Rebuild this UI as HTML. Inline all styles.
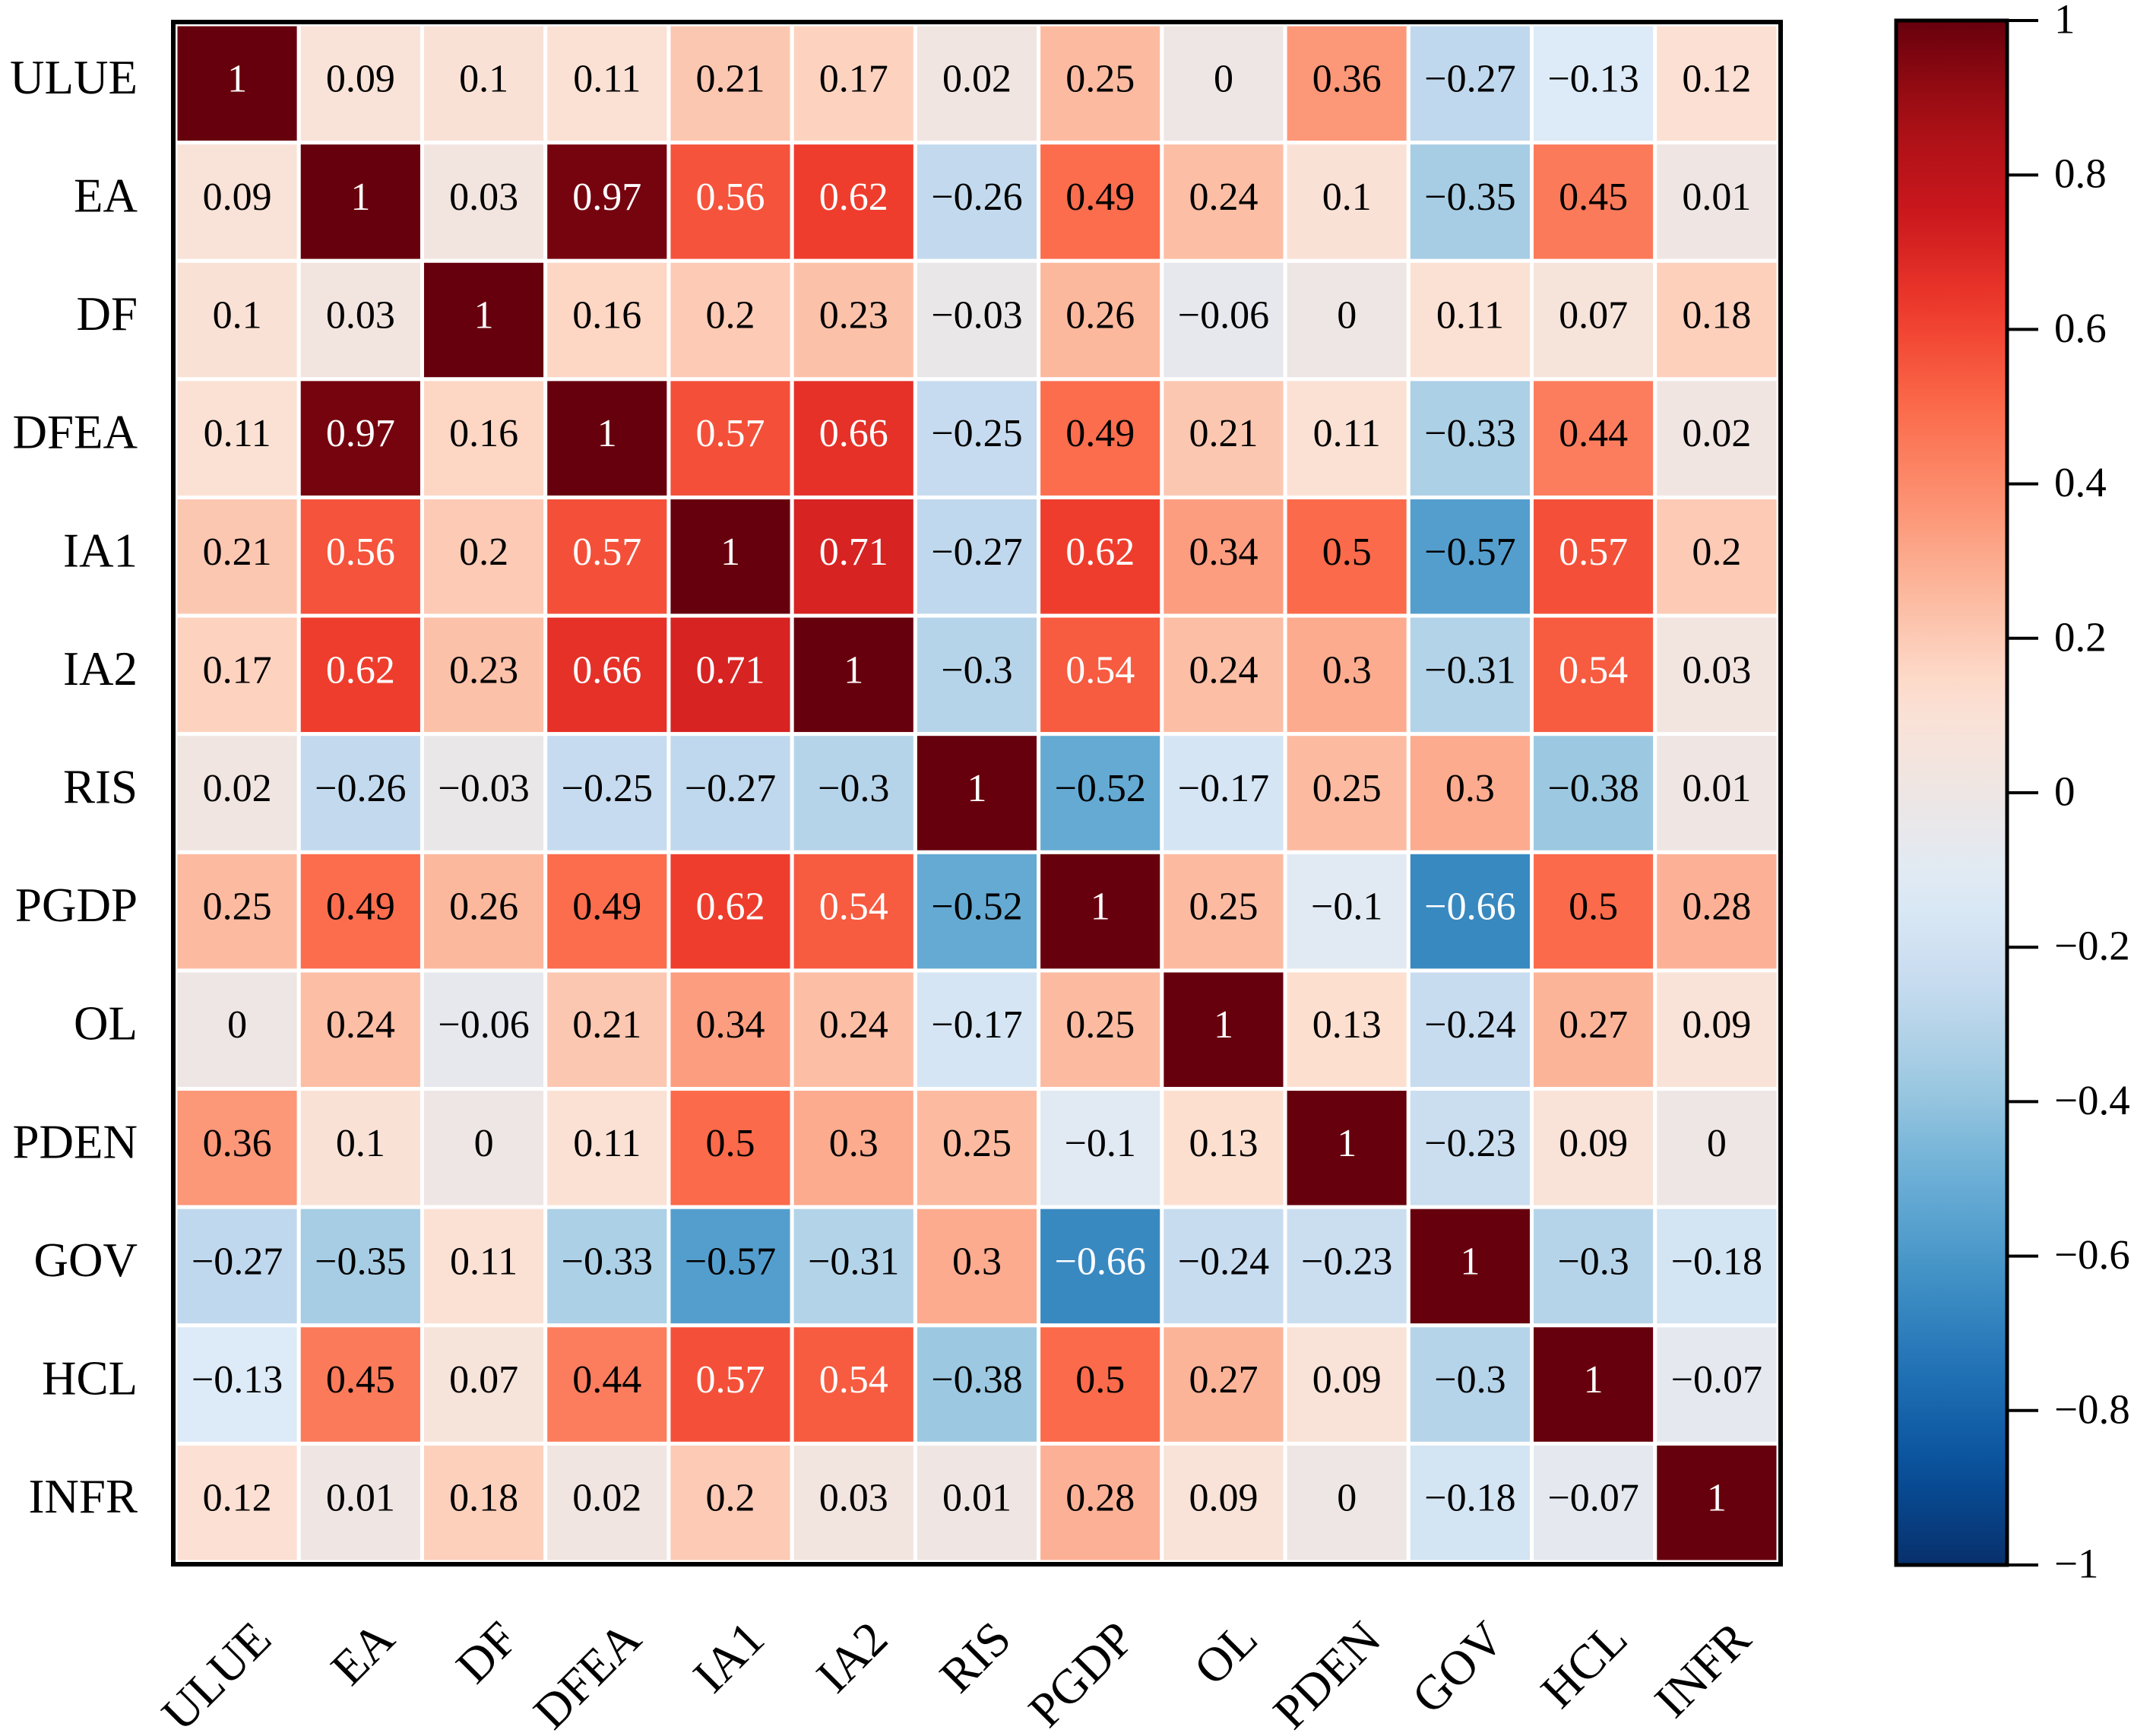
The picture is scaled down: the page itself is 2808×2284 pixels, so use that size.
<!DOCTYPE html>
<html><head><meta charset="utf-8"><style>
html,body{margin:0;padding:0;background:#fff;}
svg{display:block;font-family:"Liberation Serif","DejaVu Serif",serif;}
</style></head><body>
<svg id="chart" width="2808" height="2284" viewBox="0 0 2808 2284" xmlns="http://www.w3.org/2000/svg">
<defs><linearGradient id="cbgrad" x1="0" y1="1" x2="0" y2="0"></linearGradient></defs>
<g id="cells"></g>
<g id="rowlabels"></g>
<g id="collabels"></g>
<rect x="228" y="29" width="2115" height="2029" fill="none" stroke="#000" stroke-width="6"/>
<g id="colorbar"></g>
</svg>
<script>
const labels = ["ULUE","EA","DF","DFEA","IA1","IA2","RIS","PGDP","OL","PDEN","GOV","HCL","INFR"];
const matrix = [
[1,0.09,0.1,0.11,0.21,0.17,0.02,0.25,0,0.36,-0.27,-0.13,0.12],
[0.09,1,0.03,0.97,0.56,0.62,-0.26,0.49,0.24,0.1,-0.35,0.45,0.01],
[0.1,0.03,1,0.16,0.2,0.23,-0.03,0.26,-0.06,0,0.11,0.07,0.18],
[0.11,0.97,0.16,1,0.57,0.66,-0.25,0.49,0.21,0.11,-0.33,0.44,0.02],
[0.21,0.56,0.2,0.57,1,0.71,-0.27,0.62,0.34,0.5,-0.57,0.57,0.2],
[0.17,0.62,0.23,0.66,0.71,1,-0.3,0.54,0.24,0.3,-0.31,0.54,0.03],
[0.02,-0.26,-0.03,-0.25,-0.27,-0.3,1,-0.52,-0.17,0.25,0.3,-0.38,0.01],
[0.25,0.49,0.26,0.49,0.62,0.54,-0.52,1,0.25,-0.1,-0.66,0.5,0.28],
[0,0.24,-0.06,0.21,0.34,0.24,-0.17,0.25,1,0.13,-0.24,0.27,0.09],
[0.36,0.1,0,0.11,0.5,0.3,0.25,-0.1,0.13,1,-0.23,0.09,0],
[-0.27,-0.35,0.11,-0.33,-0.57,-0.31,0.3,-0.66,-0.24,-0.23,1,-0.3,-0.18],
[-0.13,0.45,0.07,0.44,0.57,0.54,-0.38,0.5,0.27,0.09,-0.3,1,-0.07],
[0.12,0.01,0.18,0.02,0.2,0.03,0.01,0.28,0.09,0,-0.18,-0.07,1]
];
const cbTicks = [1,0.8,0.6,0.4,0.2,0,-0.2,-0.4,-0.6,-0.8,-1];
const vmin = -1, vmax = 1;

const NS = "http://www.w3.org/2000/svg";
const X0 = 231, X1 = 2340, Y0 = 32, Y1 = 2055;
const n = labels.length;
const cw = (X1 - X0) / n, ch = (Y1 - Y0) / n;
function xPos(i){ return X0 + i * cw; }
function yPos(j){ return Y0 + j * ch; }
const reds = ["#eee6e4","#fde0d2","#fcbba1","#fc9272","#fb6a4a","#ef3b2c","#cb181d","#a50f15","#67000d"];
const blues = ["#eee6e4","#deebf7","#c6dbef","#9ecae1","#6baed6","#4292c6","#2171b5","#08519c","#08306b"];
function hex(h){ return [parseInt(h.slice(1,3),16),parseInt(h.slice(3,5),16),parseInt(h.slice(5,7),16)]; }
function interp(stops, t){
  t = Math.max(0, Math.min(1, t)) * (stops.length - 1);
  const i = Math.min(stops.length - 2, Math.floor(t)), f = t - i;
  const a = hex(stops[i]), b = hex(stops[i+1]);
  return "rgb(" + a.map((c,k)=>Math.round(c + (b[k]-c)*f)).join(",") + ")";
}
function color(v){ return v >= 0 ? interp(reds, v / vmax) : interp(blues, v / vmin); }
function fmt(v){ return (v < 0 ? "\u2212" : "") + String(Math.abs(v)); }
function mk(tag, attrs, parent){ const e = document.createElementNS(NS, tag); for (const k in attrs) e.setAttribute(k, attrs[k]); parent.appendChild(e); return e; }

const cells = document.getElementById("cells");
for (let r = 0; r < n; r++) {
  for (let c = 0; c < n; c++) {
    const v = matrix[r][c];
    const rect = mk("rect", {x: xPos(c), y: yPos(r), width: cw, height: ch, fill: color(v), stroke: "#fff", "stroke-width": 5}, cells);
    
    
    const white = v >= 0.53 || v <= -0.6;
    const t = mk("text", {x: xPos(c) + cw/2, y: yPos(r) + ch/2 - 6, "text-anchor": "middle", "dominant-baseline": "central", "font-size": 52, fill: white ? "#fff" : "#000"}, cells);
    t.textContent = fmt(v);
    
    
  }
}
const rl = document.getElementById("rowlabels");
labels.forEach((lab, r) => {
  const t = mk("text", {x: 181, y: yPos(r) + ch/2 - 8, "text-anchor": "end", "dominant-baseline": "central", "font-size": 63}, rl);
  t.textContent = lab;
  
  
});
const cl = document.getElementById("collabels");
labels.forEach((lab, c) => {
  const x = xPos(c) + cw/2 + 48, y = 2160;
  const t = mk("text", {x: x, y: y, "text-anchor": "end", "font-size": 64, transform: "rotate(-45 " + x + " " + y + ")"}, cl);
  t.textContent = lab;
  
  
});
// colorbar
const grad = document.getElementById("cbgrad");
for (let k = 0; k <= 40; k++) {
  const v = vmin + (vmax - vmin) * k / 40;
  mk("stop", {offset: (k/40*100) + "%", "stop-color": color(v)}, grad);
}
const cb = document.getElementById("colorbar");
const CBX0 = 2495, CBX1 = 2641, CBY0 = 27, CBY1 = 2059;
function cbY(v){ return CBY1 - (v - vmin) / (vmax - vmin) * (CBY1 - CBY0); }
const cbr = mk("rect", {x: CBX0, y: CBY0, width: CBX1 - CBX0, height: CBY1 - CBY0, fill: "url(#cbgrad)", stroke: "#000", "stroke-width": 5}, cb);


cbTicks.forEach(v => {
  const y = cbY(v);
  const l = mk("line", {x1: CBX1, x2: 2682, y1: y, y2: y, stroke: "#000", "stroke-width": 4}, cb);
  
  
  const t = mk("text", {x: 2703, y: y - 2, "dominant-baseline": "central", "font-size": 55}, cb);
  t.textContent = fmt(v);
  
  
});
</script>
</body></html>
